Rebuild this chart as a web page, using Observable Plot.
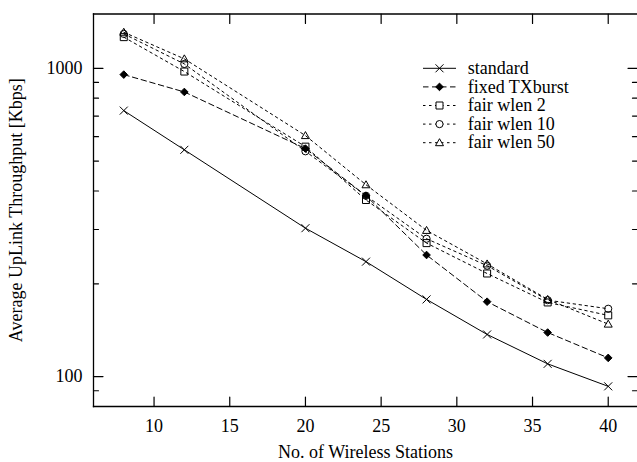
<!DOCTYPE html>
<html><head><meta charset="utf-8">
<script src="https://cdn.jsdelivr.net/npm/d3@7"></script>
<script src="https://cdn.jsdelivr.net/npm/@observablehq/plot@0.6"></script>
<style>body{margin:0;background:#fff} svg{display:block} svg text{font-family:"Liberation Serif","Times New Roman",serif}</style>
</head><body><div id="chart"></div>
<script>
// ---- data ----
const stations = [8, 12, 20, 24, 28, 32, 36, 40];
const standard = [729, 544, 303, 236, 178, 137, 110, 93];
const fixedTXburst = [954, 838, 549, 386, 248, 175, 139, 115];
const fairWlen2 = [1262, 976, 557, 374, 271, 216, 174, 158];
const fairWlen10 = [1293, 1033, 538, 386, 280, 229, 177, 166];
const fairWlen50 = [1309, 1073, 605, 419, 298, 232, 178, 148];
const seriesNames = ["standard", "fixed TXburst", "fair wlen 2", "fair wlen 10", "fair wlen 50"];
const xTicks = [10, 15, 20, 25, 30, 35, 40];
const yMajor = [100, 1000];
const yMinor = [90, 200, 300, 400, 500, 600, 700, 800, 900];
const xLabel = "No. of Wireless Stations";
const yLabel = "Average UpLink Throughput [Kbps]";

// ---- symbols (gnuplot-like) ----
const rad = (size) => Math.sqrt(size / Math.PI);
const symTimes = {draw(c, size) {const s = rad(size); c.moveTo(-s, -s); c.lineTo(s, s); c.moveTo(s, -s); c.lineTo(-s, s);}};
const symDiamond = {draw(c, size) {const s = rad(size); c.moveTo(0, -s); c.lineTo(s, 0); c.lineTo(0, s); c.lineTo(-s, 0); c.closePath();}};
const symSquare = {draw(c, size) {const s = rad(size); c.rect(-s, -s, 2 * s, 2 * s);}};
const symCircle = {draw(c, size) {const s = rad(size); c.moveTo(s, 0); c.arc(0, 0, s, 0, 2 * Math.PI);}};
const symTriangle = {draw(c, size) {const s = rad(size); c.moveTo(0, -s); c.lineTo(s, 0.75 * s); c.lineTo(-s, 0.75 * s); c.closePath();}};

const seriesValues = [standard, fixedTXburst, fairWlen2, fairWlen10, fairWlen50];
const styles = [
  {dash: null, symbol: symTimes, r: 4, fill: "none"},
  {dash: "5.5,3.5", symbol: symDiamond, r: 3.8, fill: "black"},
  {dash: "2.5,3.5", symbol: symSquare, r: 3.5, fill: "none"},
  {dash: "2.5,3.5", symbol: symCircle, r: 3.6, fill: "none"},
  {dash: "2.5,3.5", symbol: symTriangle, r: 4, fill: "none"}
];

const tables = seriesValues.map((vals, k) => stations.map((x, i) => ({x, y: vals[i], series: seriesNames[k]})));
const tickShape = {draw(c, l) {c.moveTo(0, 0); c.lineTo(0, -l);}};
const font = "Liberation Serif";

const marks = [];
tables.forEach((t, k) => {
  const s = styles[k];
  marks.push(Plot.line(t, {x: "x", y: "y", stroke: "black", strokeWidth: 1, strokeDasharray: s.dash ?? undefined}));
});
tables.forEach((t, k) => {
  const s = styles[k];
  marks.push(Plot.dot(t, {x: "x", y: "y", symbol: s.symbol, r: s.r, fill: s.fill, stroke: "black", strokeWidth: 1}));
});

const plot = Plot.plot({
  width: 637,
  height: 462,
  marginLeft: 93,
  marginRight: 0,
  marginTop: 13.5,
  marginBottom: 56,
  style: {fontFamily: font, fontSize: "18px", background: "white", color: "black"},
  x: {domain: [6, 42], range: [93, 638], axis: null},
  y: {type: "log", domain: [80, 1500], range: [406, 13.5], axis: null},
  marks: [
    Plot.frame({anchor: "left", strokeWidth: 1.3}),
    Plot.frame({anchor: "top", strokeWidth: 1.3}),
    Plot.frame({anchor: "bottom", strokeWidth: 1.3}),
    // inward ticks
    Plot.vector(xTicks, {x: d => d, frameAnchor: "bottom", rotate: 0, length: 9.5, shape: tickShape, anchor: "start", stroke: "black", strokeWidth: 1.2}),
    Plot.vector(xTicks, {x: d => d, frameAnchor: "top", rotate: 180, length: 9.5, shape: tickShape, anchor: "start", stroke: "black", strokeWidth: 1.2}),
    Plot.vector(yMajor, {y: d => d, frameAnchor: "left", rotate: 90, length: 9.5, shape: tickShape, anchor: "start", stroke: "black", strokeWidth: 1.2}),
    Plot.vector(yMinor, {y: d => d, frameAnchor: "left", rotate: 90, length: 5, shape: tickShape, anchor: "start", stroke: "black", strokeWidth: 1.2}),
    Plot.vector(yMajor, {y: d => d, frameAnchor: "right", rotate: -90, length: 9.5, shape: tickShape, anchor: "start", stroke: "black", strokeWidth: 1.2}),
    Plot.vector(yMinor, {y: d => d, frameAnchor: "right", rotate: -90, length: 5, shape: tickShape, anchor: "start", stroke: "black", strokeWidth: 1.2}),
    // tick labels
    Plot.text(xTicks, {x: d => d, text: d => String(d), frameAnchor: "bottom", dy: 13, lineAnchor: "top", textAnchor: "middle", fontSize: 18, fontFamily: font}),
    Plot.text(yMajor, {y: d => d, text: d => String(d), frameAnchor: "left", dx: -11, lineAnchor: "middle", textAnchor: "end", fontSize: 18, fontFamily: font}),
    // axis titles
    Plot.text([xLabel], {text: d => d, frameAnchor: "bottom", dy: 45.5, lineAnchor: "middle", textAnchor: "middle", fontSize: 18, fontFamily: font}),
    Plot.text([yLabel], {text: d => d, frameAnchor: "left", dx: -77, rotate: -90, lineAnchor: "middle", textAnchor: "middle", fontSize: 18, fontFamily: font}),
    ...marks
  ]
});

// ---- legend (inside plot, top right) ----
const svg = d3.select(plot);
const lg = svg.append("g").style("font-family", font).style("font-size", "18px").attr("fill", "black").attr("text-anchor", "start");
styles.forEach((s, i) => {
  const y = 68.3 + i * 18.6;
  const ln = lg.append("line").attr("x1", 423).attr("x2", 456).attr("y1", y).attr("y2", y)
    .attr("stroke", "black").attr("stroke-width", 1);
  if (s.dash) ln.attr("stroke-dasharray", s.dash);
  lg.append("path").attr("d", d3.symbol(s.symbol, Math.PI * s.r * s.r)())
    .attr("transform", `translate(439.5,${y})`)
    .attr("fill", s.fill === "none" ? "white" : s.fill).attr("stroke", "black").attr("stroke-width", 1);
  lg.append("text").attr("x", 467.7).attr("y", y).attr("dy", "0.32em").attr("text-anchor", "start")
    .style("font-family", font).text(seriesNames[i]);
});

document.getElementById("chart").appendChild(plot);
</script>
</body></html>
